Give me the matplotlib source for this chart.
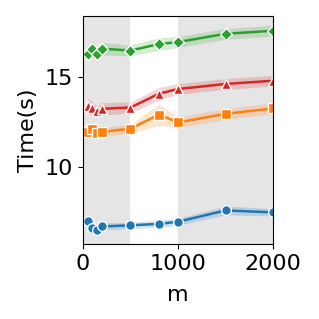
import numpy as np
import matplotlib
matplotlib.use('Agg')
import matplotlib.pyplot as plt

m = [50, 100, 150, 200, 500, 800, 1000, 1500, 2000]

t_blue = [7.00, 6.60, 6.50, 6.68, 6.74, 6.82, 6.94, 7.57, 7.46]
e_blue = [0.20, 0.20, 0.20, 0.20, 0.18, 0.20, 0.20, 0.25, 0.20]
t_orange = [11.93, 12.10, 11.90, 11.94, 12.11, 12.90, 12.46, 12.94, 13.24]
e_orange = [0.25, 0.40, 0.25, 0.25, 0.25, 0.60, 0.30, 0.30, 0.30]
t_red = [13.35, 13.24, 13.07, 13.22, 13.29, 14.06, 14.32, 14.60, 14.78]
e_red = [0.45, 0.35, 0.30, 0.35, 0.30, 0.35, 0.30, 0.30, 0.30]
t_green = [16.28, 16.54, 16.28, 16.56, 16.46, 16.82, 16.93, 17.39, 17.56]
e_green = [0.35, 0.45, 0.30, 0.35, 0.30, 0.35, 0.30, 0.30, 0.30]

series = [
	(t_blue, e_blue, 'tab:blue', 'o'),
	(t_orange, e_orange, 'tab:orange', 's'),
	(t_red, e_red, 'tab:red', '^'),
	(t_green, e_green, 'tab:green', 'D'),
]

plt.rcParams['font.size'] = 16
fig = plt.figure(figsize=(3.19, 3.19), dpi=100)
ax = fig.add_axes([0.26, 0.235, 0.596, 0.716])

ax.axvspan(0, 500, color='#e5e5e5', lw=0, zorder=0)
ax.axvspan(1000, 2000, color='#e5e5e5', lw=0, zorder=0)

x = np.array(m)
for t, e, c, mk in series:
	t = np.array(t)
	e = np.array(e)
	ax.fill_between(x, t-e, t+e, color=c, alpha=0.2, lw=0, zorder=1)
	ax.plot(x, t, color=c, lw=1.8, marker=mk, ms=7 if mk != 'D' else 6.5,
		mec='white', mew=1, zorder=2)

ax.set_xlim(0, 2000)
ax.set_ylim(5.7, 18.4)
ax.set_xticks([0, 1000, 2000])
ax.set_yticks([10, 15])
ax.set_xlabel('m', labelpad=8)
ax.set_ylabel('Time(s)', labelpad=5)

fig.savefig('out.png', dpi=100)
